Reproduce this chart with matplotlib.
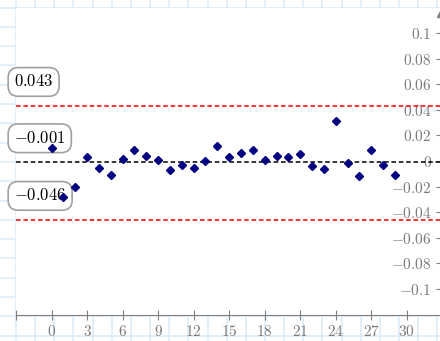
import matplotlib
matplotlib.use("Agg")
from matplotlib import pyplot as plt
import numpy as np

plt.rcParams['mathtext.fontset'] = 'cm'
plt.rcParams['font.family'] = 'serif'
plt.rcParams['font.serif'] = ['DejaVu Serif']
plt.rcParams['lines.scale_dashes'] = False

# differences per sample
diffs = [0.0104, -0.028, -0.0204, 0.003, -0.0053, -0.011, 0.0018, 0.0089, 0.0042, 0.001,
         -0.0068, -0.0034, -0.0058, -0.0003, 0.0115, 0.0029, 0.0065, 0.0086, 0.001, 0.0039,
         0.0029, 0.0057, -0.004, -0.006, 0.0316, -0.0019, -0.0118, 0.0086, -0.0034, -0.011]
idx = np.arange(len(diffs))

mean_diff = -0.001
upper_loa = 0.043
lower_loa = -0.046

xticks = list(range(-3, 31, 3))
yticks = [-0.1, -0.08, -0.06, -0.04, -0.02, 0, 0.02, 0.04, 0.06, 0.08, 0.1]

W, H = 440, 341
fig = plt.figure(figsize=(W / 100, H / 100), dpi=100)
fig.patch.set_facecolor('white')

# graph paper behind everything
bg = fig.add_axes([0, 0, 1, 1], zorder=0)
bg.set_xlim(0, W)
bg.set_ylim(H, 0)
for gx in np.arange(16, W, 19.15):
    bg.axvline(gx, color='#dbecf9', lw=1.2)
for gy in np.arange(7.5, H, 19.3):
    bg.axhline(gy, color='#dbecf9', lw=1.2)
bg.axis('off')

ax = fig.add_axes([16 / W, 26 / H, 424 / W, 307 / H], zorder=1)
ax.set_facecolor('white')
ax.set_xlim(-3, 32.8)
ax.set_ylim(-0.1203, 0.1195)

ax.axhline(upper_loa, color='red', lw=1.1, dashes=(3.3, 2.0), zorder=2)
ax.axhline(lower_loa, color='red', lw=1.1, dashes=(3.3, 2.0), zorder=2)
ax.axhline(mean_diff, color='black', lw=1.1, dashes=(3.3, 2.0), zorder=2)

for val in (upper_loa, mean_diff, lower_loa):
    ax.annotate('$%.3f$' % val, xy=(0, val), xycoords=('axes fraction', 'data'),
                xytext=(-2, 24), textcoords='offset pixels', ha='left', va='center',
                fontsize=12, annotation_clip=False, zorder=2.5,
                bbox=dict(boxstyle='round,pad=0.35,rounding_size=0.6', fc='white',
                          ec='#a0a0a0', lw=1.2))

ax.plot(idx, diffs, 'D', color='navy', ms=4.4, mec='navy', zorder=3, clip_on=False)

for s in ('top', 'right'):
    ax.spines[s].set_visible(False)
ax.spines['bottom'].set_color('gray')
ax.spines['left'].set_color('gray')
ax.spines['left'].set_position(('data', 32.86))

ax.set_xticks(xticks)
ax.set_xticklabels(['' if t < 0 else '$%d$' % t for t in xticks])
ax.set_yticks(yticks)
ax.set_yticklabels(['$0$' if t == 0 else '$%g$' % t for t in yticks])
ax.tick_params(axis='both', direction='inout', length=7, width=0.8, color='gray',
               labelcolor='#7a7a7a', labelsize=11)
ax.tick_params(axis='x', pad=3)
ax.tick_params(axis='y', pad=3)

# arrow tip on the y axis
ax.plot([32.86], [0.1155], marker='^', ms=6, color='gray', clip_on=False, zorder=4)

fig.savefig('out.png', dpi=100)
